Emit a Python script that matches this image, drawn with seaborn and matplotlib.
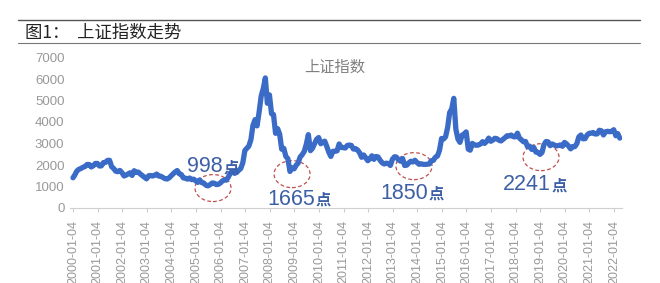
import matplotlib
matplotlib.use("Agg")
import matplotlib.pyplot as plt
import matplotlib.dates as mdates
from matplotlib.patches import Ellipse
from matplotlib.lines import Line2D
import seaborn as sns
import pandas as pd

# ---------------- data (monthly closes) ----------------
start_date = "2000-01-04"
start_value = 1406
y2000 = [1535, 1714, 1800, 1836, 1894, 1928, 2023, 2022, 1910, 1961, 2070, 2073]
y2001 = [1954, 1960, 2112, 2119, 2214, 2218, 1920, 1834, 1712, 1690, 1747, 1646]
y2002 = [1490, 1525, 1580, 1637, 1515, 1733, 1651, 1670, 1581, 1506, 1433, 1357]
y2003 = [1499, 1511, 1488, 1521, 1577, 1487, 1477, 1421, 1367, 1348, 1397, 1497]
y2004 = [1590, 1675, 1741, 1595, 1555, 1399, 1386, 1342, 1396, 1320, 1340, 1266]
y2005 = [1191, 1306, 1181, 1159, 1060, 1030, 1083, 1162, 1155, 1092, 1099, 1161]
y2006 = [1258, 1299, 1298, 1440, 1642, 1672, 1612, 1658, 1752, 1837, 2099, 2675]
y2007 = [2786, 2881, 3183, 3841, 4109, 3820, 4471, 5218, 5552, 6050, 4871, 5262]
y2008 = [4383, 4348, 3473, 3693, 3433, 2736, 2776, 2397, 2293, 1700, 1871, 1821]
y2009 = [1991, 2082, 2373, 2477, 2633, 2959, 3412, 2667, 2779, 2996, 3195, 3277]
y2010 = [2989, 3051, 3110, 2870, 2592, 2398, 2638, 2639, 2656, 2979, 2820, 2808]
y2011 = [2790, 2905, 2928, 2911, 2743, 2762, 2701, 2568, 2359, 2468, 2333, 2199]
y2012 = [2292, 2428, 2263, 2397, 2373, 2225, 2103, 2047, 2086, 2069, 1980, 2269]
y2013 = [2385, 2366, 2237, 2178, 2301, 1979, 1994, 2098, 2175, 2141, 2220, 2116]
y2014 = [2033, 2056, 2033, 2026, 2039, 2048, 2201, 2217, 2364, 2420, 2683, 3235]
y2015 = [3210, 3310, 3748, 4441, 4612, 5100, 3664, 3206, 3053, 3383, 3445, 3539]
y2016 = [2738, 2688, 3004, 2938, 2917, 2930, 2979, 3085, 3005, 3100, 3250, 3104]
y2017 = [3159, 3242, 3223, 3155, 3117, 3192, 3273, 3361, 3349, 3393, 3317, 3307]
y2018 = [3481, 3259, 3169, 3082, 3095, 2847, 2876, 2725, 2821, 2603, 2588, 2494]
y2019 = [2585, 2941, 3091, 3078, 2899, 2979, 2933, 2886, 2905, 2929, 2871, 3050]
y2020 = [2977, 2880, 2750, 2860, 2852, 2985, 3310, 3396, 3218, 3225, 3392, 3473]
y2021 = [3483, 3509, 3442, 3447, 3615, 3591, 3397, 3544, 3568, 3547, 3564, 3640]
y2022 = [3362, 3462, 3252]

years = list(range(2000, 2023))
tick_labels = [f"{y}-01-04" for y in years]

# annotations: (label, date of right edge of number, baseline value)
ann_labels = ["998", "1665", "1850", "2241"]
ann_dates = ["2006-02-09", "2009-11-07", "2014-06-12", "2019-06-13"]
ann_values = [1669, 139, 417, 834]
# circled lows: centre date, centre value
ell_dates = ["2005-09-14", "2008-12-01", "2013-11-16", "2019-01-16"]
ell_values = [927, 1576, 1947, 2364]

title = "图1：  上证指数走势"
subtitle = "上证指数"

# ---------------- build table ----------------
all_years = [y2000, y2001, y2002, y2003, y2004, y2005, y2006, y2007, y2008, y2009,
             y2010, y2011, y2012, y2013, y2014, y2015, y2016, y2017, y2018, y2019,
             y2020, y2021, y2022]
dates = [pd.Timestamp(start_date)]
vals = [start_value]
for y, lst in zip(years, all_years):
    for m, v in enumerate(lst, start=1):
        dates.append(pd.Timestamp(y, m, 1) + pd.offsets.MonthEnd(0))
        vals.append(v)
df = pd.DataFrame({"date": dates, "value": vals})

# ---------------- style ----------------
sns.set_style("white")
plt.rcParams["font.family"] = ["Liberation Sans", "Noto Sans CJK SC", "DejaVu Sans"]

W, H = 660, 283
fig = plt.figure(figsize=(6.6, 2.83), dpi=100)
ax_left, ax_right = 70, 622
ax_bottom, ax_top = 208, 57.5
ax = fig.add_axes([ax_left / W, 1 - ax_bottom / H, (ax_right - ax_left) / W, (ax_bottom - ax_top) / H])

line_color = "#3A6BC6"
text_color = "#3D5FA5"
grey = "#999999"

sns.lineplot(data=df, x="date", y="value", ax=ax, color=line_color, linewidth=3.8,
             legend=False, solid_joinstyle="round", solid_capstyle="round")

# x range: 2000-01-04 at px 73, 2022-01-04 at px 614
d0 = mdates.date2num(pd.Timestamp("2000-01-04"))
d1 = mdates.date2num(pd.Timestamp("2022-01-04"))
ppd = (614 - 73) / (d1 - d0)
ax.set_xlim(d0 - (73 - ax_left) / ppd, d1 + (ax_right - 614) / ppd)
ax.set_ylim(0, 7000)

ax.set_yticks(range(0, 7001, 1000))
ax.set_yticklabels([str(v) for v in range(0, 7001, 1000)], fontsize=9.5, color=grey)
ax.tick_params(axis="y", length=0, pad=4)

ax.set_xticks([mdates.date2num(pd.Timestamp(t)) for t in tick_labels])
ax.set_xticklabels(tick_labels, rotation=90, fontsize=9, color=grey, va="top")
ax.tick_params(axis="x", bottom=True, length=3, width=0.8, color="#CCCCCC", pad=5.5)

ax.set_xlabel("")
ax.set_ylabel("")
for s in ["top", "right", "left"]:
    ax.spines[s].set_visible(False)
ax.spines["bottom"].set_color("#D0D0D0")
ax.spines["bottom"].set_linewidth(0.8)

# subtitle
ax.text(0.48, 0.934, subtitle, transform=ax.transAxes, ha="center", va="center",
        fontsize=11, color="#7F7F7F", family=["Noto Sans CJK SC", "DejaVu Sans"])

# annotations
for lab, d, v in zip(ann_labels, ann_dates, ann_values):
    x = mdates.date2num(pd.Timestamp(d))
    ax.annotate(lab, (x, v), ha="right", va="baseline", fontsize=15.5, color=text_color,
                family=["Liberation Sans", "DejaVu Sans"], annotation_clip=False)
    ax.annotate("点", (x, v), xytext=(0.5, 0), textcoords="offset points", ha="left",
                va="baseline", fontsize=11, fontweight="bold", color=text_color,
                family=["Noto Sans CJK SC", "DejaVu Sans"], annotation_clip=False)

for d, v in zip(ell_dates, ell_values):
    x = mdates.date2num(pd.Timestamp(d))
    e = Ellipse((x, v), width=36 / ppd, height=27 / ((ax_bottom - ax_top) / 7000),
                fill=False, edgecolor="#C0504D", linestyle=(0, (3, 2)), linewidth=0.9)
    ax.add_patch(e)

# header lines and title
fig.add_artist(Line2D([18 / W, 640 / W], [1 - 20 / H, 1 - 20 / H], color="#555555", linewidth=1.0))
fig.add_artist(Line2D([18 / W, 640 / W], [1 - 43 / H, 1 - 43 / H], color="#777777", linewidth=0.8))
fig.text(25 / W, 1 - 33 / H, title, ha="left", va="center", fontsize=12.5, color="#222222",
         family=["Noto Sans CJK SC", "DejaVu Sans"])

fig.savefig("out.png", dpi=100)
